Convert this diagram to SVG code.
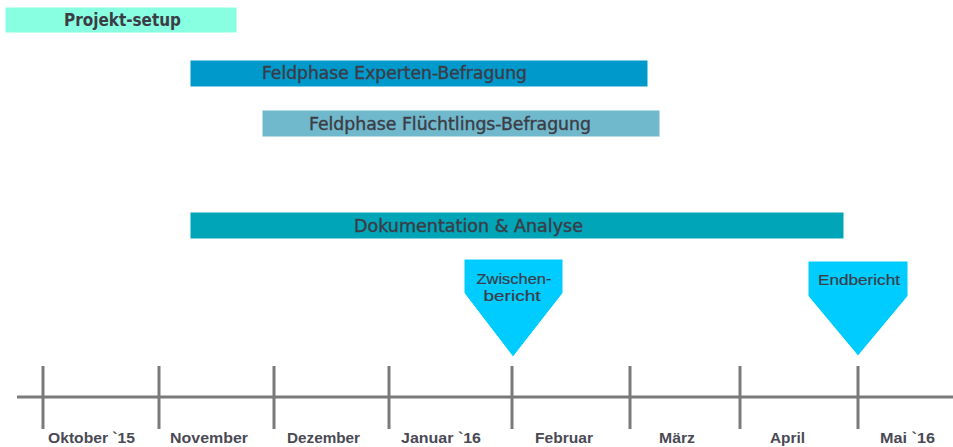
<svg xmlns="http://www.w3.org/2000/svg" width="953" height="447" viewBox="0 0 953 447">
<style>
.bar{stroke:#ffffff;stroke-width:1}
.bt{font-family:"DejaVu Sans Condensed","Liberation Sans",sans-serif;font-size:17px;fill:#3c3c46;stroke:#3c3c46;stroke-width:0.35;text-anchor:start}
.bold{font-weight:bold;stroke-width:0}
.ms{fill:#00CCFF;stroke:#ffffff;stroke-width:1}
.mt{font-family:"Liberation Sans",Arial,sans-serif;font-size:15px;fill:#3c3c46;stroke:#3c3c46;stroke-width:0.2;text-anchor:middle}
.axis{stroke:#7a7a7a;stroke-width:3;fill:none}
.lab{font-family:"Liberation Sans",Arial,sans-serif;font-size:14px;font-weight:bold;fill:#4a4a55}
</style>
<rect width="953" height="447" fill="#ffffff"/>
<g id="projekt-setup">
<rect class="bar" x="5" y="7" width="232" height="26" fill="#88FFE0"/>
<text class="bt bold" x="64" y="26" textLength="117" lengthAdjust="spacingAndGlyphs">Projekt-setup</text>
</g>
<g id="feldphase-experten">
<rect class="bar" x="190" y="60" width="458" height="27" fill="#0099CC"/>
<text class="bt" x="262" y="79" textLength="265" lengthAdjust="spacingAndGlyphs">Feldphase Experten-Befragung</text>
</g>
<g id="feldphase-fluechtlinge">
<rect class="bar" x="262" y="110" width="398" height="27" fill="#70B8CC"/>
<text class="bt" x="309" y="130" textLength="282" lengthAdjust="spacingAndGlyphs">Feldphase Flüchtlings-Befragung</text>
</g>
<g id="dokumentation">
<rect class="bar" x="190" y="212" width="654" height="27" fill="#00A5B8"/>
<text class="bt" x="354" y="232" textLength="229" lengthAdjust="spacingAndGlyphs">Dokumentation &amp; Analyse</text>
</g>
<g id="zwischenbericht">
<polygon class="ms" points="464,259 563,259 563,293 513,357 464,293"/>
<text class="mt" x="514" y="284" textLength="75" lengthAdjust="spacingAndGlyphs">Zwischen-</text>
<text class="mt" x="512" y="301" textLength="57" lengthAdjust="spacingAndGlyphs">bericht</text>
</g>
<g id="endbericht">
<polygon class="ms" points="808,261 908,261 908,296 858,356 808,296"/>
<text class="mt" x="859" y="285" textLength="82" lengthAdjust="spacingAndGlyphs">Endbericht</text>
</g>
<g id="timeline">
<line class="axis" x1="17" y1="397" x2="953" y2="397"/>
<line class="axis" x1="43" y1="366" x2="43" y2="429"/>
<line class="axis" x1="159" y1="366" x2="159" y2="429"/>
<line class="axis" x1="274" y1="366" x2="274" y2="429"/>
<line class="axis" x1="389" y1="366" x2="389" y2="429"/>
<line class="axis" x1="512" y1="366" x2="512" y2="429"/>
<line class="axis" x1="630" y1="366" x2="630" y2="429"/>
<line class="axis" x1="740" y1="366" x2="740" y2="429"/>
<line class="axis" x1="858" y1="366" x2="858" y2="429"/>
<text class="lab" x="48" y="443" textLength="87" lengthAdjust="spacingAndGlyphs">Oktober `15</text>
<text class="lab" x="170" y="443" textLength="78" lengthAdjust="spacingAndGlyphs">November</text>
<text class="lab" x="287" y="443" textLength="73" lengthAdjust="spacingAndGlyphs">Dezember</text>
<text class="lab" x="401" y="443" textLength="80" lengthAdjust="spacingAndGlyphs">Januar `16</text>
<text class="lab" x="535" y="443" textLength="58" lengthAdjust="spacingAndGlyphs">Februar</text>
<text class="lab" x="659" y="443" textLength="36" lengthAdjust="spacingAndGlyphs">März</text>
<text class="lab" x="770" y="443" textLength="35" lengthAdjust="spacingAndGlyphs">April</text>
<text class="lab" x="880" y="443" textLength="55" lengthAdjust="spacingAndGlyphs">Mai `16</text>
</g>
</svg>
